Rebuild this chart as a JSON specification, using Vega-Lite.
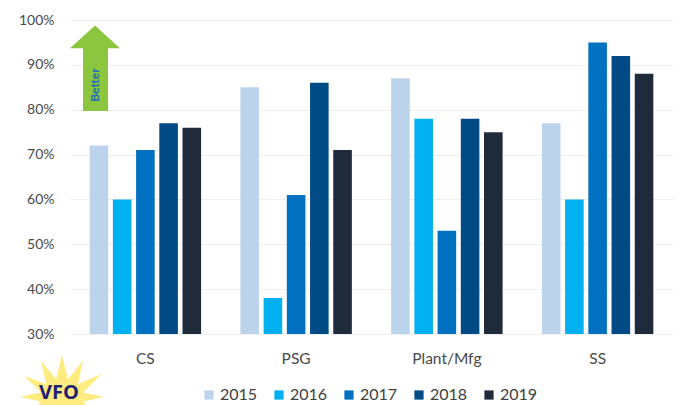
{
  "$schema": "https://vega.github.io/schema/vega-lite/v6.json",
  "width": 603,
  "height": 314,
  "autosize": "none",
  "padding": {"left": 70, "top": 20, "right": 7, "bottom": 71},
  "background": "white",
  "config": {"view": {"stroke": null}, "font": "Lato"},
  "layer": [
    {
      "data": {"values": [
        {"group": "CS", "year": "2015", "score": 0.72},
        {"group": "CS", "year": "2016", "score": 0.60},
        {"group": "CS", "year": "2017", "score": 0.71},
        {"group": "CS", "year": "2018", "score": 0.77},
        {"group": "CS", "year": "2019", "score": 0.76},
        {"group": "PSG", "year": "2015", "score": 0.85},
        {"group": "PSG", "year": "2016", "score": 0.38},
        {"group": "PSG", "year": "2017", "score": 0.61},
        {"group": "PSG", "year": "2018", "score": 0.86},
        {"group": "PSG", "year": "2019", "score": 0.71},
        {"group": "Plant/Mfg", "year": "2015", "score": 0.87},
        {"group": "Plant/Mfg", "year": "2016", "score": 0.78},
        {"group": "Plant/Mfg", "year": "2017", "score": 0.53},
        {"group": "Plant/Mfg", "year": "2018", "score": 0.78},
        {"group": "Plant/Mfg", "year": "2019", "score": 0.75},
        {"group": "SS", "year": "2015", "score": 0.77},
        {"group": "SS", "year": "2016", "score": 0.60},
        {"group": "SS", "year": "2017", "score": 0.95},
        {"group": "SS", "year": "2018", "score": 0.92},
        {"group": "SS", "year": "2019", "score": 0.88}
      ]},
      "mark": {"type": "bar", "clip": true},
      "encoding": {
        "x": {
          "field": "group",
          "type": "nominal",
          "sort": ["CS", "PSG", "Plant/Mfg", "SS"],
          "scale": {"paddingInner": 0.23, "paddingOuter": 0.115},
          "axis": {
            "title": null,
            "domain": false,
            "ticks": false,
            "labelAngle": 0,
            "labelPadding": 17,
            "labelFontSize": 15.5,
            "labelColor": "#4a4a4a"
          }
        },
        "xOffset": {
          "field": "year",
          "type": "nominal",
          "scale": {"paddingInner": 0.2, "paddingOuter": 0.1}
        },
        "y": {
          "field": "score",
          "type": "quantitative",
          "scale": {"domain": [0.3, 1], "nice": false, "zero": false},
          "axis": {
            "title": null,
            "format": ".0%",
            "values": [0.3, 0.4, 0.5, 0.6, 0.7, 0.8, 0.9, 1],
            "domain": false,
            "ticks": false,
            "labelPadding": 16,
            "labelFontSize": 14,
            "labelColor": "#4a4a4a",
            "gridColor": "#efefef",
            "gridWidth": 1
          }
        },
        "color": {
          "field": "year",
          "type": "nominal",
          "scale": {
            "domain": ["2015", "2016", "2017", "2018", "2019"],
            "range": ["#bcd3ec", "#00b0f0", "#0070c0", "#004a86", "#1f2a3a"]
          },
          "legend": {
            "title": null,
            "orient": "none",
            "direction": "horizontal",
            "legendX": 131,
            "legendY": 367,
            "symbolType": "square",
            "symbolSize": 85,
            "symbolStrokeWidth": 0,
            "labelFontSize": 16,
            "labelColor": "#404040",
            "labelOffset": 3,
            "columnPadding": 13
          }
        }
      }
    },
    {
      "data": {"values": [{"cx": -8, "level": 0.16}]},
      "mark": {
        "type": "point",
        "filled": true,
        "clip": false,
        "color": "#ffec80",
        "opacity": 1,
        "size": 7000,
        "shape": "M0,-1 L0.14,-0.42 L0.5,-0.86 L0.38,-0.3 L0.95,-0.55 L0.5,-0.1 L1,0 L0.5,0.12 L0.9,0.5 L0.38,0.32 L0.5,0.86 L0.14,0.42 L0,1 L-0.14,0.42 L-0.5,0.86 L-0.38,0.32 L-0.9,0.5 L-0.5,0.12 L-1,0 L-0.5,-0.1 L-0.9,-0.5 L-0.38,-0.3 L-0.5,-0.86 L-0.14,-0.42 Z"
      },
      "encoding": {
        "x": {"field": "cx", "type": "quantitative", "scale": {"domain": [0, 603], "nice": false, "zero": false}, "axis": null},
        "y": {"field": "level", "type": "quantitative"}
      }
    },
    {
      "data": {"values": [{"cx": -11, "level": 0.168, "tag": "VFO"}]},
      "mark": {"type": "text", "clip": false, "font": "Open Sans", "fontWeight": "bold", "fontSize": 20, "color": "#23206f"},
      "encoding": {
        "x": {"field": "cx", "type": "quantitative", "scale": {"domain": [0, 603], "nice": false, "zero": false}, "axis": null},
        "y": {"field": "level", "type": "quantitative"},
        "text": {"field": "tag"}
      }
    },
    {
      "data": {"values": [{"left": 13, "right": 38, "foot": 0.797, "neck": 0.94}]},
      "mark": {"type": "rect", "color": "#8cc63f"},
      "encoding": {
        "x": {"field": "left", "type": "quantitative", "scale": {"domain": [0, 603], "nice": false, "zero": false}, "axis": null},
        "x2": {"field": "right"},
        "y": {"field": "foot", "type": "quantitative"},
        "y2": {"field": "neck"}
      }
    },
    {
      "data": {"values": [
        {"cx": 0, "edge": 0.937, "base": 0.937},
        {"cx": 25, "edge": 0.988, "base": 0.937},
        {"cx": 50, "edge": 0.937, "base": 0.937}
      ]},
      "mark": {"type": "area", "color": "#8cc63f", "interpolate": "linear", "opacity": 1},
      "encoding": {
        "x": {"field": "cx", "type": "quantitative", "scale": {"domain": [0, 603], "nice": false, "zero": false}, "axis": null},
        "y": {"field": "edge", "type": "quantitative"},
        "y2": {"field": "base"}
      }
    },
    {
      "data": {"values": [{"cx": 25, "level": 0.855, "tag": "Better"}]},
      "mark": {"type": "text", "angle": 270, "fontWeight": "bold", "fontSize": 12, "color": "#1f66c1"},
      "encoding": {
        "x": {"field": "cx", "type": "quantitative", "scale": {"domain": [0, 603], "nice": false, "zero": false}, "axis": null},
        "y": {"field": "level", "type": "quantitative"},
        "text": {"field": "tag"}
      }
    }
  ],
  "resolve": {"scale": {"x": "independent"}}
}
